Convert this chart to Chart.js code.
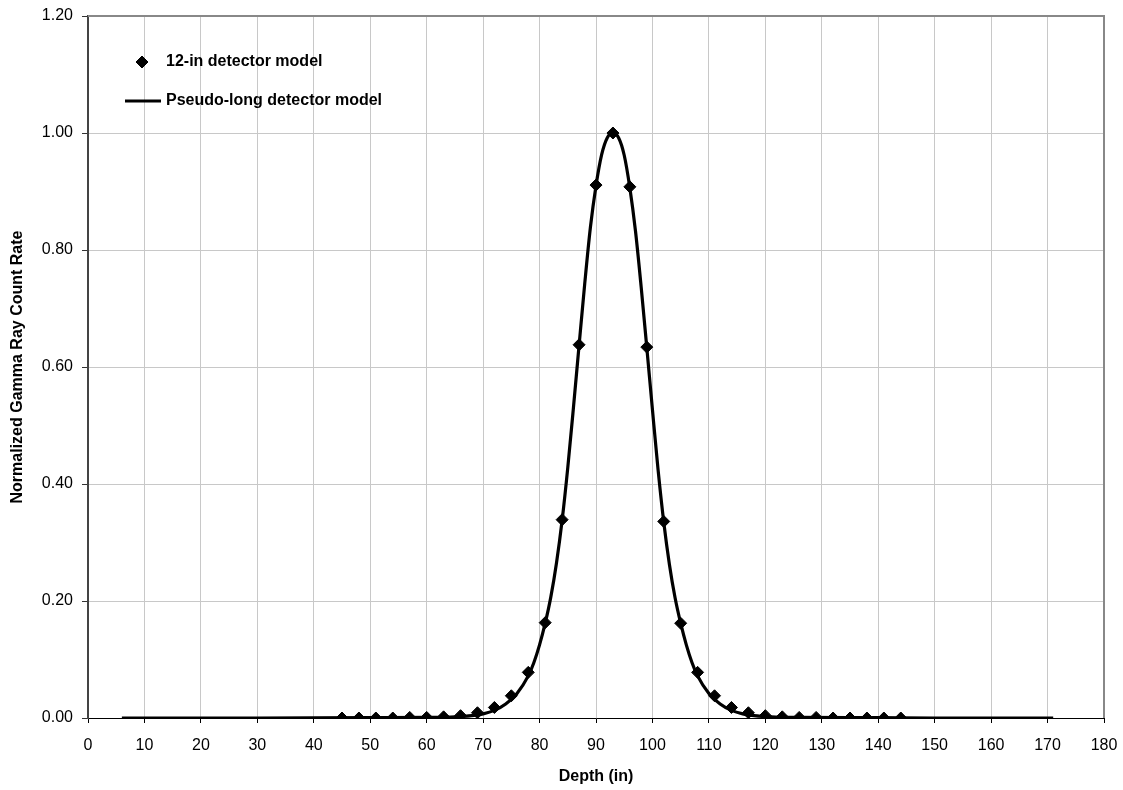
<!DOCTYPE html>
<html>
<head>
<meta charset="utf-8">
<script src="https://cdn.jsdelivr.net/npm/chart.js@4.4.1/dist/chart.umd.min.js"></script>
<style>
  html, body { margin: 0; padding: 0; background: #fff; }
  #wrap { width: 1123px; height: 790px; }
</style>
</head>
<body>
<div id="wrap"><canvas id="gammaChart" width="1123" height="790"></canvas></div>
<script>
// --- data ---
const detectorDepth = [45, 48, 51, 54, 57, 60, 63, 66, 69, 72, 75, 78, 81, 84, 87, 90, 93,
                       96, 99, 102, 105, 108, 111, 114, 117, 120, 123, 126, 129, 132, 135, 138, 141, 144];
const detectorRate  = [0.000, 0.000, 0.000, 0.000, 0.001, 0.001, 0.002, 0.004, 0.009, 0.018, 0.038, 0.078, 0.163, 0.339, 0.638, 0.911, 1.000,
                       0.908, 0.634, 0.336, 0.162, 0.078, 0.038, 0.018, 0.009, 0.004, 0.002, 0.001, 0.001, 0.000, 0.000, 0.000, 0.000, 0.000];

const pseudoDepth = [6, 30, 50, 60, 65, 68, 70, 72, 74, 76, 78, 79, 80, 81, 82, 83, 84, 85, 86, 87, 88, 89, 90, 91, 92, 93,
                     94, 95, 96, 97, 98, 99, 100, 101, 102, 103, 104, 105, 106, 107, 108, 110, 112, 114, 116, 118, 121, 126, 140, 150, 171];
const pseudoRate  = [0, 0, 0.0005, 0.001, 0.002, 0.004, 0.007, 0.013, 0.024, 0.042, 0.072, 0.095, 0.125, 0.162, 0.207, 0.265, 0.338, 0.428, 0.53, 0.637, 0.742, 0.838, 0.91, 0.963, 0.992, 1.0,
                     0.992, 0.962, 0.906, 0.832, 0.737, 0.633, 0.527, 0.424, 0.335, 0.263, 0.206, 0.162, 0.125, 0.095, 0.072, 0.042, 0.024, 0.013, 0.007, 0.004, 0.002, 0.001, 0.0005, 0, 0];

const xTicks = { min: 0, max: 180, step: 10 };
const yTicks = { min: 0, max: 1.2, step: 0.2 };

const FONT = "'Liberation Sans', Arial, sans-serif";

const toPoints = (xs, ys) => xs.map((x, i) => ({ x: x, y: ys[i] }));

// gray frame on the top and right of the plot area
const framePlugin = {
    id: 'frame',
    beforeDatasetsDraw(chart) {
        const a = chart.chartArea;
        const ctx = chart.ctx;
        ctx.save();
        ctx.strokeStyle = '#888888';
        ctx.lineWidth = 2;
        ctx.beginPath();
        ctx.moveTo(a.left, a.top);
        ctx.lineTo(a.right, a.top);
        ctx.lineTo(a.right, a.bottom);
        ctx.stroke();
        ctx.restore();
    }
};

// legend box drawn inside the plot, top-left
const insideLegend = {
    id: 'insideLegend',
    afterDraw(chart) {
        const a = chart.chartArea;
        const ctx = chart.ctx;
        const ds = chart.data.datasets;
        const textX = a.left + 78;
        const row1 = a.top + 46, row2 = a.top + 85;
        ctx.save();
        ctx.fillStyle = '#000';
        ctx.font = 'bold 16px ' + FONT;
        ctx.textBaseline = 'middle';
        ctx.textAlign = 'left';

        Chart.helpers.drawPoint(ctx, { pointStyle: 'rectRot', radius: 6, borderWidth: 1 }, a.left + 54, row1);
        ctx.fill();
        ctx.fillText(ds[0].label, textX, row1);

        ctx.strokeStyle = '#000';
        ctx.lineWidth = 3;
        ctx.beginPath();
        ctx.moveTo(a.left + 37, row2);
        ctx.lineTo(a.left + 73, row2);
        ctx.stroke();
        ctx.fillText(ds[1].label, textX, row2);
        ctx.restore();
    }
};

new Chart(document.getElementById('gammaChart'), {
    type: 'scatter',
    data: {
        datasets: [
            {
                label: '12-in detector model',
                data: toPoints(detectorDepth, detectorRate),
                pointStyle: 'rectRot',
                pointRadius: 6,
                pointHoverRadius: 6,
                backgroundColor: '#000',
                borderColor: '#000',
                borderWidth: 1,
                showLine: false,
                order: 1
            },
            {
                label: 'Pseudo-long detector model',
                data: toPoints(pseudoDepth, pseudoRate),
                showLine: true,
                pointRadius: 0,
                borderColor: '#000',
                borderWidth: 3.2,
                cubicInterpolationMode: 'monotone',
                fill: false,
                order: 2
            }
        ]
    },
    options: {
        responsive: false,
        animation: false,
        layout: { padding: { top: 16, right: 19, left: 0, bottom: 0 } },
        plugins: {
            legend: { display: false },
            tooltip: { enabled: false }
        },
        scales: {
            x: {
                type: 'linear',
                min: xTicks.min, max: xTicks.max,
                afterFit: (s) => { s.height = 72; s.paddingLeft = 0; s.paddingRight = 0; },
                ticks: {
                    stepSize: xTicks.step,
                    color: '#000',
                    padding: 13,
                    maxRotation: 0,
                    font: { family: FONT, size: 16 }
                },
                grid: { color: '#c8c8c8', lineWidth: 1, tickLength: 5, tickColor: '#000' },
                border: { color: '#000', width: 1 },
                title: {
                    display: true,
                    text: 'Depth (in)',
                    color: '#000',
                    padding: 4,
                    font: { family: FONT, size: 16, weight: 'bold' }
                }
            },
            y: {
                type: 'linear',
                min: yTicks.min, max: yTicks.max,
                afterFit: (s) => { s.width = 88; s.paddingTop = 0; s.paddingBottom = 0; },
                ticks: {
                    stepSize: yTicks.step,
                    color: '#000',
                    padding: 9,
                    callback: (v) => v.toFixed(2),
                    font: { family: FONT, size: 16 }
                },
                grid: { color: '#c8c8c8', lineWidth: 1, tickLength: 6, tickColor: '#333' },
                border: { color: '#444', width: 2 },
                title: {
                    display: true,
                    text: 'Normalized Gamma Ray Count Rate',
                    color: '#000',
                    padding: 8,
                    font: { family: FONT, size: 16, weight: 'bold' }
                }
            }
        }
    },
    plugins: [framePlugin, insideLegend]
});
</script>
</body>
</html>
